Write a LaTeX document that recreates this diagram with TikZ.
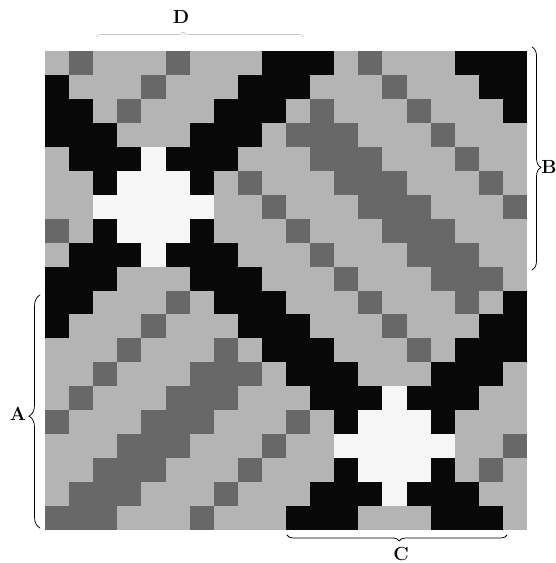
\documentclass[tikz,border=0pt]{standalone}
\usetikzlibrary{decorations.pathreplacing}
\definecolor{cL}{RGB}{180,180,180}
\definecolor{cD}{RGB}{104,104,104}
\definecolor{cK}{RGB}{8,8,8}
\definecolor{cW}{RGB}{246,246,246}
\begin{document}
\begin{tikzpicture}[x=1pt,y=-1pt,
  lbl/.style={font=\fontsize{19}{19}\selectfont\bfseries, inner sep=0pt},
  bracestyle/.style={decorate, line width=0.75pt, line cap=round}]
\useasboundingbox (0,0) rectangle (556,563);
\fill[white] (0,0) rectangle (556,563);
\foreach \rowlist [count=\r from 0] in {%
{L,D,L,L,L,D,L,L,L,K,K,K,L,D,L,L,L,K,K,K},%
{K,L,L,L,D,L,L,L,K,K,K,L,L,L,D,L,L,L,K,K},%
{K,K,L,D,L,L,L,K,K,K,L,D,L,L,L,D,L,L,L,K},%
{K,K,K,L,L,L,K,K,K,L,D,D,D,L,L,L,D,L,L,L},%
{L,K,K,K,W,K,K,K,L,L,L,D,D,D,L,L,L,D,L,L},%
{L,L,K,W,W,W,K,L,D,L,L,L,D,D,D,L,L,L,D,L},%
{L,L,W,W,W,W,W,L,L,D,L,L,L,D,D,D,L,L,L,D},%
{D,L,K,W,W,W,K,L,L,L,D,L,L,L,D,D,D,L,L,L},%
{L,K,K,K,W,K,K,K,L,L,L,D,L,L,L,D,D,D,L,L},%
{K,K,K,L,L,L,K,K,K,L,L,L,D,L,L,L,D,D,D,L},%
{K,K,L,L,L,D,L,K,K,K,L,L,L,D,L,L,L,D,L,K},%
{K,L,L,L,D,L,L,L,K,K,K,L,L,L,D,L,L,L,K,K},%
{L,L,L,D,L,L,L,D,L,K,K,K,L,L,L,D,L,K,K,K},%
{L,L,D,L,L,L,D,D,D,L,K,K,K,L,L,L,K,K,K,L},%
{L,D,L,L,L,D,D,D,L,L,L,K,K,K,W,K,K,K,L,L},%
{D,L,L,L,D,D,D,L,L,L,D,L,K,W,W,W,K,L,L,L},%
{L,L,L,D,D,D,L,L,L,D,L,L,W,W,W,W,W,L,L,D},%
{L,L,D,D,D,L,L,L,D,L,L,L,K,W,W,W,K,L,D,L},%
{L,D,D,D,L,L,L,D,L,L,L,K,K,K,W,K,K,K,L,L},%
{D,D,D,L,L,L,D,L,L,L,K,K,K,L,L,L,K,K,K,L}}{%
  \foreach \v [count=\c from 0] in \rowlist {%
    \fill[fill=c\v] ({45+24.1*\c},{51+23.95*\r}) rectangle ++(24.5,24.3);
  }
}
% braces
\coordinate (a1) at (40,528); \coordinate (a2) at (40,295);
\coordinate (b1) at (532,47); \coordinate (b2) at (532,270);
\coordinate (c1) at (507,535); \coordinate (c2) at (287,535);
\coordinate (d1) at (96,37); \coordinate (d2) at (304,37);
\draw[bracestyle, decoration={brace,amplitude=11pt,aspect=0.48}] (a1) -- (a2);
\draw[bracestyle, decoration={brace,amplitude=9pt,aspect=0.54}] (b1) -- (b2);
\draw[bracestyle, decoration={brace,amplitude=6pt,aspect=0.49}] (c1) -- (c2);
\draw[bracestyle, draw=gray!45, line width=0.6pt, decoration={brace,amplitude=5pt,aspect=0.42}] (d1) -- (d2);
% labels
\node[lbl] (lA) at (18,414) {A};
\node[lbl] (lB) at (549,167) {B};
\node[lbl] (lC) at (401,554) {C};
\node[lbl] (lD) at (181,17) {D};
\end{tikzpicture}
\end{document}
